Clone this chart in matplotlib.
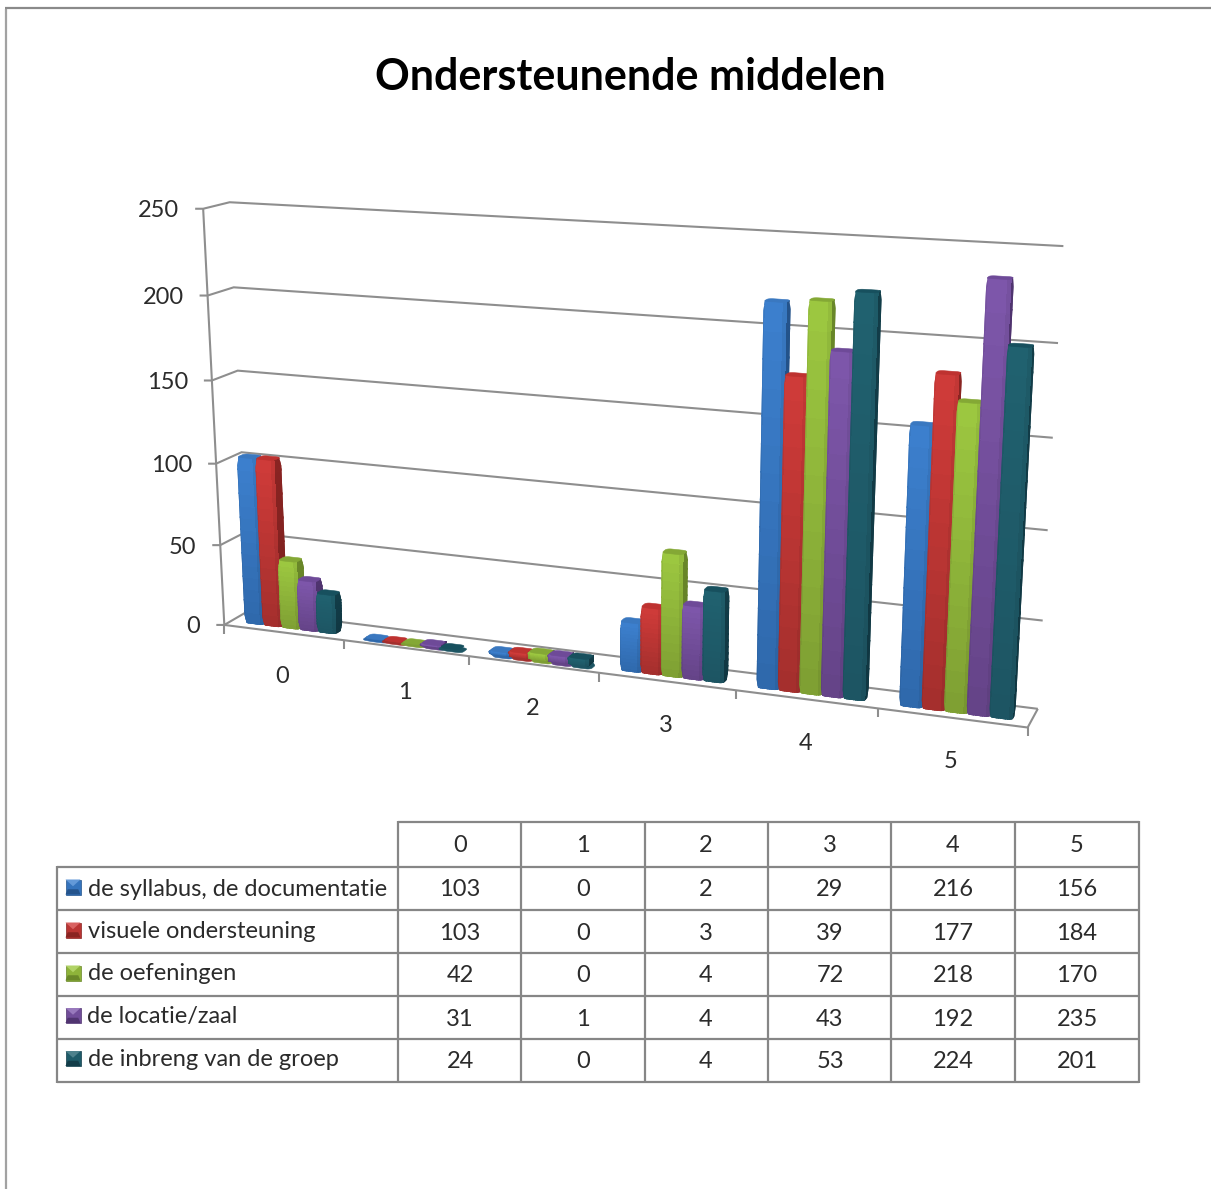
import numpy as np
import matplotlib
matplotlib.use("Agg")
import matplotlib.pyplot as plt
from matplotlib.collections import PolyCollection
from matplotlib.patches import Polygon, PathPatch
from matplotlib.path import Path

plt.rcParams['font.family'] = ['Lato', 'DejaVu Sans']

TITLE = "Ondersteunende middelen"
categories = ["0", "1", "2", "3", "4", "5"]
series_names = ["de syllabus, de documentatie", "visuele ondersteuning", "de oefeningen",
                "de locatie/zaal", "de inbreng van de groep"]
syllabus = [103, 0, 2, 29, 216, 156]
visueel = [103, 0, 3, 39, 177, 184]
oefeningen = [42, 0, 4, 72, 218, 170]
locatie = [31, 1, 4, 43, 192, 235]
inbreng = [24, 0, 4, 53, 224, 201]
series_values = [syllabus, visueel, oefeningen, locatie, inbreng]
y_ticks = [0, 50, 100, 150, 200, 250]

# top / bottom of the front face, side face, cap
palette = [
    ("#3C80CE", "#2E68AB", "#24548C", "#3A78C0"),
    ("#D03B39", "#A32F2D", "#8A2422", "#BE3230"),
    ("#9DC840", "#7E9E33", "#6A8829", "#84A835"),
    ("#7E57AB", "#644387", "#503470", "#6E4A98"),
    ("#20616F", "#1D5563", "#123D49", "#17505E"),
]
GRID = "#8e8e8e"
TEXT = "#2b2b2b"

# Camera of the 3-D box: (category, depth, value) -> canvas position
box_world = np.array([
    (0, 0, 0), (0, 0, 100), (0, 0, 200), (0, 0, 250), (0, 0, 250), (0, 0, 250), (6, 0, 0),
    (0, 1, 0), (0, 1, 100), (0, 1, 200), (0, 1, 250), (0, 1, 250),
    (6, 1, 0), (6, 1, 50), (6, 1, 100), (6, 1, 150), (6, 1, 200), (6, 1, 250),
], float)
box_canvas = np.array([
    (226, 624), (218, 463), (207, 296), (202, 209), (202, 209), (202, 209), (1028, 728),
    (246, 612), (242, 452), (234, 287), (231, 202), (231, 202),
    (1037, 708), (1043, 621), (1048, 530), (1053, 438), (1058, 343), (1063, 246),
], float)


def fit_camera(world, canvas):
    rows, rhs = [], []
    for (x, y, z), (u, v) in zip(world, canvas):
        z = z / 100
        rows.append([x, y, z, 1, 0, 0, 0, 0, -u * x, -u * y, -u * z])
        rhs.append(u)
        rows.append([0, 0, 0, 0, x, y, z, 1, -v * x, -v * y, -v * z])
        rhs.append(v)
    p = np.linalg.lstsq(np.array(rows), np.array(rhs), rcond=None)[0]
    return np.append(p, 1.0).reshape(3, 4)


CAM = fit_camera(box_world, box_canvas)


def project(x, y, z):
    x, y, z = np.broadcast_arrays(np.asarray(x, float), np.asarray(y, float), np.asarray(z, float))
    pts = np.stack([x, y, z / 100, np.ones_like(x)], axis=-1)
    h = pts @ CAM.T
    return h[..., :2] / h[..., 2:3]


def hull(points):
    pts = sorted(map(tuple, points))
    def half(seq):
        out = []
        for p in seq:
            while len(out) > 1 and ((out[-1][0] - out[-2][0]) * (p[1] - out[-2][1])
                                    - (out[-1][1] - out[-2][1]) * (p[0] - out[-2][0])) <= 0:
                out.pop()
            out.append(p)
        return out[:-1]
    return np.array(half(pts) + half(pts[::-1]))


def rounded_ring(x0, x1, y0, y1, rx, ry, n=6):
    t = np.linspace(0, np.pi / 2, n)
    xs, ys = [], []
    for cx, cy, sx, sy in ((x1 - rx, y1 - ry, 1, 1), (x0 + rx, y1 - ry, -1, 1),
                           (x0 + rx, y0 + ry, -1, -1), (x1 - rx, y0 + ry, 1, -1)):
        tt = t if sx * sy > 0 else t[::-1]
        xs.append(cx + sx * rx * np.cos(tt))
        ys.append(cy + sy * ry * np.sin(tt))
    return np.concatenate(xs), np.concatenate(ys)


def mix(c0, c1, t):
    a, b = np.array(matplotlib.colors.to_rgb(c0)), np.array(matplotlib.colors.to_rgb(c1))
    return a + (b - a) * t


def cross_shade(u):
    # bevelled bar: darker towards both vertical edges of the face
    left = np.clip(u / 0.10, 0, 1)
    right = np.clip((1 - u) / 0.10, 0, 1)
    return (0.90 + 0.10 * left) * (0.88 + 0.12 * right)


fig = plt.figure(figsize=(12.11, 11.89), dpi=100, facecolor="white")
ax = fig.add_axes([0, 0, 1, 1])
ax.set_xlim(0, 1211)
ax.set_ylim(1189, 0)
ax.axis("off")


def line(pts, color=GRID, lw=1.5, z=2):
    pts = np.asarray(pts)
    ax.plot(pts[:, 0], pts[:, 1], color=color, lw=lw, solid_capstyle="butt",
            solid_joinstyle="miter", zorder=z)


# page frame
line([(6, 1189), (6, 8.5)], color="#a2a2a2", lw=1.6)
line([(5, 8), (1211, 8)], color="#8a8a8a", lw=1.6)

ax.text(630, 77, TITLE, ha="center", va="center", fontsize=31, fontweight="bold", color="black")

# walls and floor
n_cat = len(categories)
for v in y_ticks:
    front = project(0, 0, v)
    line([front - (8, 0), front, project(0, 1, v), project(n_cat, 1, v)])
    ax.text(front[0] - 24, front[1] + 2, str(v), ha="right", va="center", fontsize=17, color=TEXT)
line([project(0, 0, 0), project(0, 0, 250)])
line([project(0, 0, 0), project(n_cat, 0, 0), project(n_cat, 1, 0)])
for i in range(n_cat + 1):
    p = project(i, 0, 0)
    line([p, p + (0, 9)])
for i, c in enumerate(categories):
    p = project(i + 0.5, 0, 0)
    ax.text(p[0] - 1, p[1] + 44, c, ha="center", va="center", fontsize=17, color=TEXT)

# bars, drawn left to right so each one covers the side of its neighbour
GAP = 0.12
BAR_W = (1 - 2 * GAP) / len(series_values)
Y0, Y1 = 0.26, 0.56
zorder = 5
for c in range(n_cat):
    for s, vals in enumerate(series_values):
        v = vals[c]
        top_col, bot_col, side_col, cap_col = palette[s]
        x0 = c + GAP + s * BAR_W
        x1 = x0 + BAR_W
        rx, ry = 0.22 * BAR_W, 0.30 * (Y1 - Y0)
        rxs, rys = rounded_ring(x0, x1, Y0, Y1, rx, ry)

        # nearly empty bars still show their bevelled rim
        if v <= 4:
            rim = hull(np.vstack([project(rxs, rys + 0.12, np.full_like(rxs, -3.0)).reshape(-1, 2),
                                  project(rxs, rys - 0.12, np.full_like(rxs, v)).reshape(-1, 2)]))
            ax.add_patch(Polygon(rim, closed=True, fc=bot_col, ec=bot_col, lw=0.4, zorder=zorder))

        bevel = min(v, 5)
        outline = [project(rxs, rys, np.full_like(rxs, v)).reshape(-1, 2),
                   project(rxs, rys, np.zeros_like(rxs)).reshape(-1, 2)]
        if v > 0:
            outline.append(project([x0, x1, x1, x0], [Y0, Y0, Y1, Y1], [v - bevel] * 4).reshape(-1, 2))
            outline.append(project([x0, x1, x1, x0], [Y0, Y0, Y1, Y1], [bevel] * 4).reshape(-1, 2))
        ring = hull(np.vstack(outline))
        clip = PathPatch(Path(np.vstack([ring, ring[:1]])), transform=ax.transData, fc="none", ec="none")
        ax.add_patch(clip)

        polys, colors = [], []
        if v > 0:
            # side face
            n_v = 14
            zs = np.linspace(0, v, n_v + 1)
            for k in range(n_v):
                q = project([x1, x1, x1, x1], [Y0, Y1, Y1, Y0], [zs[k], zs[k], zs[k + 1], zs[k + 1]])
                polys.append(q)
                colors.append(mix(side_col, "#000000", 0.10 * (1 - zs[k] / v)))
            # front face
            us = np.linspace(0, 1, 11)
            for k in range(n_v):
                base = mix(bot_col, top_col, (k + 0.5) / n_v)
                for j in range(10):
                    xa, xb = x0 + us[j] * BAR_W, x0 + us[j + 1] * BAR_W
                    q = project([xa, xb, xb, xa], [Y0] * 4, [zs[k], zs[k], zs[k + 1], zs[k + 1]])
                    polys.append(q)
                    colors.append(np.clip(base * cross_shade((us[j] + us[j + 1]) / 2), 0, 1))
        if polys:
            coll = PolyCollection(polys, facecolors=colors, edgecolors=colors, linewidths=0.7,
                                  antialiaseds=False, zorder=zorder + 0.2)
            ax.add_collection(coll)
            coll.set_clip_path(clip)
        cap = Polygon(project(rxs, rys, np.full_like(rxs, v)), closed=True, fc=cap_col, ec=cap_col,
                      lw=0.4, zorder=zorder + 0.5)
        ax.add_patch(cap)
        zorder += 1

# data table
col_x = [398, 521, 645, 768, 891, 1015, 1139]
row_y = [822, 867, 910, 953, 996, 1039, 1082]
TBL = 60
table_col = "#868686"
for y in row_y[1:]:
    line([(57, y), (1139, y)], color=table_col, lw=1.6, z=TBL)
line([(398, 822), (1139, 822)], color=table_col, lw=1.6, z=TBL)
line([(57, 866.2), (57, 1082.8)], color=table_col, lw=1.6, z=TBL)
for x in col_x:
    line([(x, 821.2), (x, 1082.8)], color=table_col, lw=1.6, z=TBL)

centers = [460, 583, 706, 830, 953, 1077]
for x, c in zip(centers, categories):
    ax.text(x, 846, c, ha="center", va="center", fontsize=17, color=TEXT, zorder=TBL)
label_y = [889, 932, 974, 1017, 1060]
value_y = [890, 933, 976, 1019, 1062]
key_y = [887, 930, 973, 1015.5, 1058.5]
label_x = [88, 88, 88, 87, 88]
for s, name in enumerate(series_names):
    ax.text(label_x[s], label_y[s], name, ha="left", va="center", fontsize=17, color=TEXT, zorder=TBL)
    for x, v in zip(centers, series_values[s]):
        ax.text(x, value_y[s], str(v), ha="center", va="center", fontsize=17, color=TEXT, zorder=TBL)
    # legend key with bevelled faces
    kx, ky, h = 73, key_y[s], 7.5
    top_col, bot_col, side_col, cap_col = palette[s]
    ax.add_patch(Polygon([(kx - h, ky - h), (kx + h, ky - h), (kx + h, ky + h), (kx - h, ky + h)],
                         fc=mix(top_col, bot_col, 0.5), ec=side_col, lw=0.5, zorder=TBL))
    ax.add_patch(Polygon([(kx - h, ky - h), (kx + h, ky - h), (kx, ky - h * 0.1)],
                         fc=mix(top_col, "#ffffff", 0.2), ec="none", zorder=TBL + 1))
    ax.add_patch(Polygon([(kx - h, ky + h), (kx + h, ky + h), (kx + h * 0.7, ky + h * 0.3), (kx - h * 0.7, ky + h * 0.3)],
                         fc=side_col, ec="none", zorder=TBL + 1))

fig.savefig("out.png", dpi=100, facecolor="white")
